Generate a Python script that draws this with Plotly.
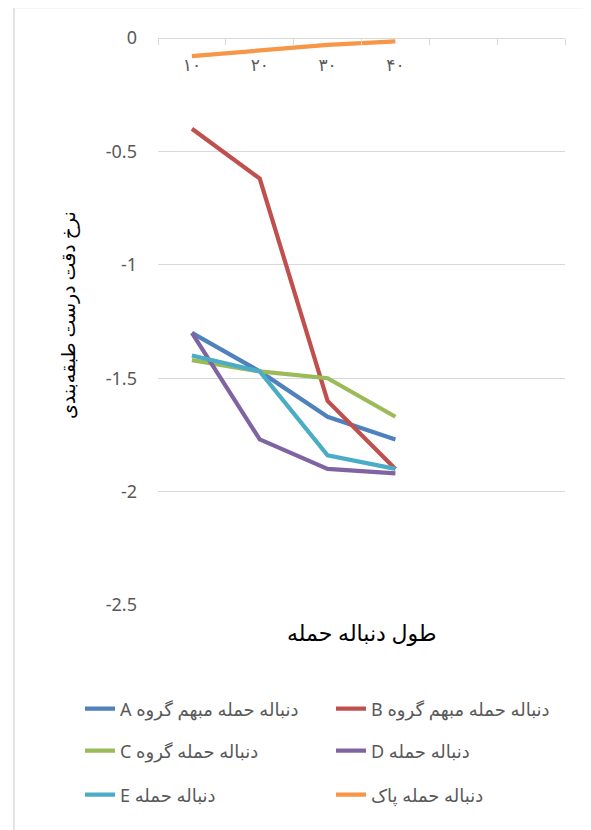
import plotly.graph_objects as go

# ---- data ----
categories = ["۱۰", "۲۰", "۳۰", "۴۰"]
axis_slots = ["۱۰", "۲۰", "۳۰", "۴۰", " ", "  "]
series_names = [
    "A دنباله حمله مبهم گروه",
    "B دنباله حمله مبهم گروه",
    "C دنباله حمله گروه",
    "D دنباله حمله",
    "E دنباله حمله",
    "دنباله حمله پاک",
]
series_A = [-1.30, -1.47, -1.67, -1.77]
series_B = [-0.40, -0.62, -1.60, -1.90]
series_C = [-1.42, -1.47, -1.50, -1.67]
series_D = [-1.30, -1.77, -1.90, -1.92]
series_E = [-1.40, -1.47, -1.84, -1.90]
series_clean = [-0.08, -0.055, -0.03, -0.015]
y_ticks = [0, -0.5, -1, -1.5, -2, -2.5]
y_tick_labels = ["0", "-0.5", "-1", "-1.5", "-2", "-2.5"]
y_title = "نرخ دقت درست طبقه‌بندی"
x_title = "طول دنباله حمله"

colors = ["#4F81BD", "#C0504D", "#9BBB59", "#8064A2", "#4BACC6", "#F79646"]
legend_ids = ["legend", "legend", "legend2", "legend2", "legend3", "legend3"]
all_series = [series_A, series_B, series_C, series_D, series_E, series_clean]

OFF = 8  # page body margin
W, H = 591, 830
L, R, T, B = 158 - OFF, 565 - OFF, 38 - OFF, 605 - OFF
pw, ph = R - L, B - T


def px_x(x):
    return (x - OFF - L) / pw


def px_y(y):
    return (B - (y - OFF)) / ph


FONT = "Noto Sans, DejaVu Sans, sans-serif"
GRAY = "#595959"
GRID = "#D9D9D9"

fig = go.Figure()
for name, vals, c, lg in zip(series_names, all_series, colors, legend_ids):
    fig.add_trace(go.Scatter(
        x=categories, y=vals, name=name, mode="lines",
        line=dict(color=c, width=4.2), legend=lg,
    ))

legend_common = dict(orientation="h", xanchor="left", yanchor="middle",
                     entrywidth=206, entrywidthmode="pixels",
                     font=dict(size=18, color=GRAY), bgcolor="rgba(0,0,0,0)")

fig.update_layout(
    width=W, height=H,
    margin=dict(l=L, r=W - R, t=T, b=H - B),
    paper_bgcolor="white", plot_bgcolor="white",
    font=dict(family=FONT, color=GRAY, size=15),
    xaxis=dict(
        type="category", categoryorder="array", categoryarray=axis_slots,
        range=[-0.5, 5.5], side="bottom", anchor="free", position=1,
        showline=True, linecolor=GRID, linewidth=1,
        showgrid=False, ticks="outside", ticklen=6, tickcolor=GRID,
        tickson="boundaries", ticklabelstandoff=12,
        tickfont=dict(size=17, color=GRAY), zeroline=False,
    ),
    yaxis=dict(
        range=[-2.5, 0], tickvals=y_ticks, ticktext=y_tick_labels,
        showgrid=True, gridcolor=GRID, gridwidth=1, zeroline=False,
        showline=False, ticks="", ticklabelstandoff=20,
        tickfont=dict(size=18, color=GRAY),
    ),
    legend=dict(x=px_x(80), y=px_y(709), **legend_common),
    legend2=dict(x=px_x(80), y=px_y(751), **legend_common),
    legend3=dict(x=px_x(80), y=px_y(795), **legend_common),
    showlegend=True,
)

fig.add_annotation(text=y_title, xref="paper", yref="paper", x=px_x(68), y=px_y(315),
                   textangle=-90, showarrow=False, font=dict(size=19, color="black"),
                   xanchor="center", yanchor="middle")
fig.add_annotation(text=x_title, xref="paper", yref="paper", x=px_x(361), y=px_y(632),
                   showarrow=False, font=dict(size=22, color="black"),
                   xanchor="center", yanchor="middle")

# outer chart border (extends beyond the window on right/bottom)
fig.add_shape(type="line", xref="paper", yref="paper", x0=px_x(14), x1=px_x(620),
              y0=px_y(7.5), y1=px_y(7.5), line=dict(color=GRID, width=1.5))
fig.add_shape(type="line", xref="paper", yref="paper", x0=px_x(14), x1=px_x(14),
              y0=px_y(7.5), y1=px_y(860), line=dict(color=GRID, width=1.5))

fig.write_html("out.html")
